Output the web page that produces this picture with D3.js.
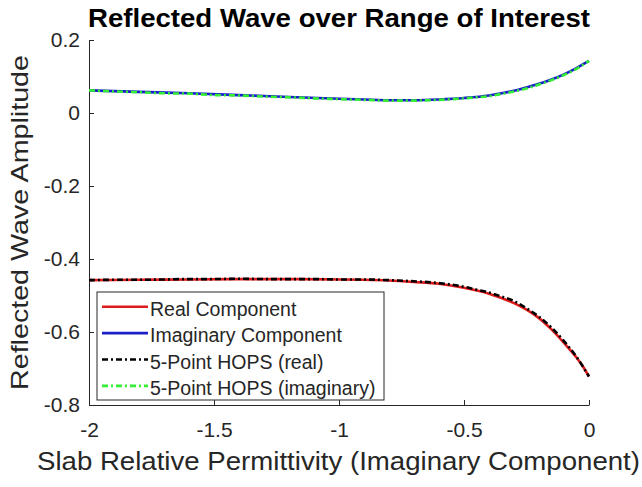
<!DOCTYPE html>
<html>
<head>
<meta charset="utf-8">
<script src="https://cdn.jsdelivr.net/npm/d3@7"></script>
<style>
  body { margin: 0; background: #fff; }
  text { font-family: "Liberation Sans", Arial, Helvetica, sans-serif; fill: #262626; }
</style>
</head>
<body>
<div id="chart"></div>
<script>
// exact solution, sampled along the imaginary part of the permittivity
var epsIm = [-2, -1.8, -1.6, -1.4, -1.2, -1, -0.9, -0.8, -0.7, -0.6, -0.5, -0.4, -0.35, -0.3, -0.25, -0.2, -0.15, -0.1, -0.05, -0.025, 0];
var realComp = [-0.458, -0.457, -0.456, -0.455, -0.455, -0.456, -0.457, -0.459, -0.463, -0.468, -0.479, -0.495, -0.507, -0.521, -0.539, -0.562, -0.593, -0.630, -0.670, -0.694, -0.722];
var imagComp = [0.062, 0.058, 0.054, 0.049, 0.044, 0.039, 0.037, 0.035, 0.035, 0.037, 0.041, 0.048, 0.054, 0.061, 0.070, 0.080, 0.092, 0.106, 0.123, 0.133, 0.143];

// 5-point HOPS approximation
var hopsX = [-2, -1.9, -1.8, -1.7, -1.6, -1.5, -1.4, -1.3, -1.2, -1.1, -1, -0.9, -0.8, -0.7, -0.6, -0.5, -0.45, -0.4, -0.35, -0.3, -0.25, -0.2, -0.15, -0.1, -0.05, 0];
var hopsReal = [-0.458, -0.457, -0.457, -0.456, -0.455, -0.455, -0.454, -0.455, -0.455, -0.455, -0.456, -0.456, -0.458, -0.461, -0.466, -0.476, -0.484, -0.492, -0.503, -0.515, -0.535, -0.558, -0.588, -0.625, -0.668, -0.722];
var hopsImag = [0.062, 0.059, 0.057, 0.054, 0.053, 0.049, 0.048, 0.045, 0.043, 0.040, 0.038, 0.036, 0.034, 0.034, 0.036, 0.040, 0.043, 0.046, 0.052, 0.059, 0.067, 0.078, 0.090, 0.104, 0.121, 0.143];

var xTicks = [-2, -1.5, -1, -0.5, 0];
var yTicks = [-0.8, -0.6, -0.4, -0.2, 0, 0.2];
var legendLabels = ["Real Component", "Imaginary Component", "5-Point HOPS (real)", "5-Point HOPS (imaginary)"];

var width = 642, height = 487;
var mLeft = 89, mRight = 589, mTop = 40, mBottom = 405;

var svg = d3.select("#chart")
  .append("svg")
    .attr("width", width)
    .attr("height", height);

var x = d3.scaleLinear().domain([-2, 0]).range([mLeft, mRight]);
var y = d3.scaleLinear().domain([-0.8, 0.2]).range([mBottom, mTop]);

// plain hyphen minus like matlab
var fmt = function(d) { return String(d); };

// axes (matlab style: ticks inside, no box)
var xAxis = svg.append("g")
  .attr("transform", "translate(0," + mBottom + ")")
  .call(d3.axisBottom(x).tickValues(xTicks).tickFormat(fmt).tickSizeInner(-5).tickSizeOuter(0).tickPadding(17));
var yAxis = svg.append("g")
  .attr("transform", "translate(" + mLeft + ",0)")
  .call(d3.axisLeft(y).tickValues(yTicks).tickFormat(fmt).tickSizeInner(-5).tickSizeOuter(0).tickPadding(9));

[xAxis, yAxis].forEach(function(g) {
  g.select(".domain").attr("stroke", "#262626");
  g.selectAll(".tick line").attr("stroke", "#262626");
  g.selectAll(".tick text")
    .style("font-size", "21px")
    .style("font-family", "'Liberation Sans', Arial, sans-serif")
    .attr("fill", "#262626");
});

var series = [
  { xs: epsIm, ys: realComp, color: "#e01b1b", dash: null },
  { xs: epsIm, ys: imagComp, color: "#1a1fc8", dash: null },
  { xs: hopsX, ys: hopsReal, color: "#000000", dash: "6,3,2,3" },
  { xs: hopsX, ys: hopsImag, color: "#33ee33", dash: "6,3,2,3" }
];

var line = d3.line()
  .x(function(d) { return x(d[0]); })
  .y(function(d) { return y(d[1]); })
  .curve(d3.curveMonotoneX);

series.forEach(function(s) {
  svg.append("path")
    .datum(d3.zip(s.xs, s.ys))
    .attr("d", line)
    .attr("fill", "none")
    .attr("stroke", s.color)
    .attr("stroke-width", 2.6)
    .attr("stroke-dasharray", s.dash);
});

// title + axis labels
svg.append("text")
  .attr("x", (mLeft + mRight) / 2)
  .attr("y", 27)
  .attr("text-anchor", "middle")
  .attr("textLength", 502)
  .attr("lengthAdjust", "spacingAndGlyphs")
  .style("font-size", "26px")
  .style("font-weight", "bold")
  .style("fill", "#000")
  .text("Reflected Wave over Range of Interest");

svg.append("text")
  .attr("x", 338.5)
  .attr("y", 470)
  .attr("text-anchor", "middle")
  .attr("textLength", 603)
  .attr("lengthAdjust", "spacingAndGlyphs")
  .style("font-size", "25.5px")
  .text("Slab Relative Permittivity (Imaginary Component)");

svg.append("text")
  .attr("transform", "translate(28," + ((mTop + mBottom) / 2) + ") rotate(-90)")
  .attr("text-anchor", "middle")
  .attr("textLength", 335)
  .attr("lengthAdjust", "spacingAndGlyphs")
  .style("font-size", "24.5px")
  .text("Reflected Wave Amplitude");

// legend
var legend = svg.append("g");
legend.append("rect")
  .attr("x", 97).attr("y", 292)
  .attr("width", 287).attr("height", 108)
  .attr("fill", "#fff")
  .attr("stroke", "#262626")
  .attr("stroke-width", 1);

var rows = legend.selectAll(".row")
  .data(series)
  .enter()
  .append("g")
    .attr("transform", function(d, i) { return "translate(0," + (306.7 + i * 26.4) + ")"; });

rows.append("line")
  .attr("x1", 102).attr("x2", 148)
  .attr("stroke", function(d) { return d.color; })
  .attr("stroke-width", 2.6)
  .attr("stroke-dasharray", function(d) { return d.dash; });

rows.append("text")
  .attr("x", 150)
  .attr("y", 9.3)
  .style("font-size", "19.5px")
  .text(function(d, i) { return legendLabels[i]; });
</script>
</body>
</html>
